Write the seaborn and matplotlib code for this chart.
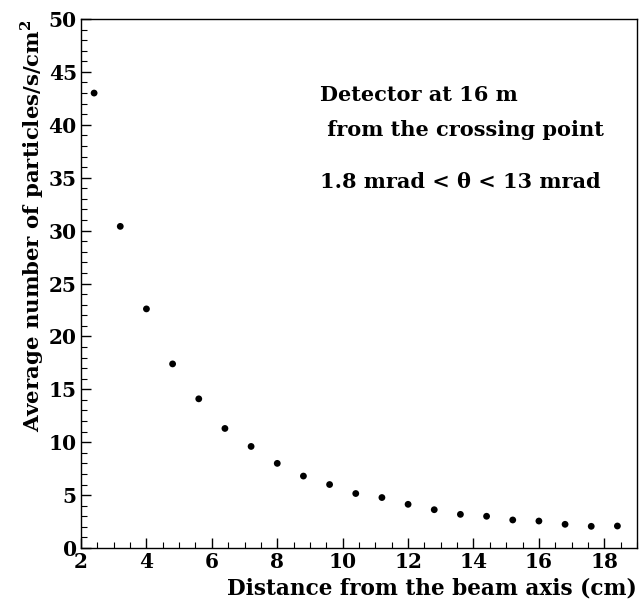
import matplotlib
matplotlib.use("Agg")
import matplotlib.pyplot as plt
from matplotlib.ticker import MultipleLocator
import seaborn as sns
import pandas as pd

# distance from beam axis (cm) and average rate (particles/s/cm^2)
distancia = [2.4, 3.2, 4.0, 4.8, 5.6, 6.4, 7.2, 8.0, 8.8, 9.6, 10.4,
             11.2, 12.0, 12.8, 13.6, 14.4, 15.2, 16.0, 16.8, 17.6, 18.4]
taxa = [43.0, 30.4, 22.6, 17.4, 14.1, 11.3, 9.6, 8.0, 6.8, 6.0, 5.15,
        4.77, 4.13, 3.62, 3.18, 3.0, 2.65, 2.55, 2.24, 2.05, 2.08]

sns.set_style("ticks")
plt.rcParams['font.family'] = ['DejaVu Serif']
plt.rcParams['font.weight'] = 'bold'
plt.rcParams['mathtext.fontset'] = 'custom'
plt.rcParams['mathtext.bf'] = 'DejaVu Serif:bold'
plt.rcParams['mathtext.rm'] = 'DejaVu Serif:bold'
for k in ['text.color', 'axes.labelcolor', 'xtick.color', 'ytick.color',
          'axes.edgecolor']:
    plt.rcParams[k] = 'black'

df = pd.DataFrame({'x': distancia, 'y': taxa})

fig = plt.figure(figsize=(6.41, 6.05), dpi=100)
ax = fig.add_axes([0.1264, 0.0942, 0.8674, 0.8744])

sns.scatterplot(data=df, x='x', y='y', ax=ax, color='black', s=24,
                edgecolor='none', linewidth=0)

ax.set_xlim(2, 19)
ax.set_ylim(0, 50)
ax.xaxis.set_minor_locator(MultipleLocator(0.5))
ax.yaxis.set_major_locator(MultipleLocator(5))
ax.yaxis.set_minor_locator(MultipleLocator(1))
ax.set_xticks([2, 4, 6, 8, 10, 12, 14, 16, 18])
ax.tick_params(which='major', direction='in', length=7, width=1,
               labelsize=14.5, pad=3, colors='black')
ax.tick_params(which='minor', direction='in', length=4, width=0.8,
               colors='black')
for lab in ax.get_xticklabels() + ax.get_yticklabels():
    lab.set_fontweight('bold')
for s in ax.spines.values():
    s.set_linewidth(1)
    s.set_color('black')

ax.set_xlabel('Distance from the beam axis (cm)', fontsize=15.6,
              fontweight='bold', loc='right')
ax.set_ylabel(r'Average number of particles/s/cm$^{\mathbf{2}}$',
              fontsize=15.3, fontweight='bold', loc='top')
ax.xaxis.set_label_coords(1.0, -0.055)
ax.yaxis.set_label_coords(-0.063, 1.0)

ax.text(0.43, 0.856, 'Detector at 16 m', transform=ax.transAxes,
        fontsize=15, fontweight='bold', va='center', ha='left')
ax.text(0.43, 0.79, ' from the crossing point', transform=ax.transAxes,
        fontsize=15, fontweight='bold', va='center', ha='left')
ax.text(0.43, 0.692, '1.8 mrad < \u03b8 < 13 mrad', transform=ax.transAxes,
        fontsize=15, fontweight='bold', va='center', ha='left')

fig.savefig('out.png', dpi=100)
